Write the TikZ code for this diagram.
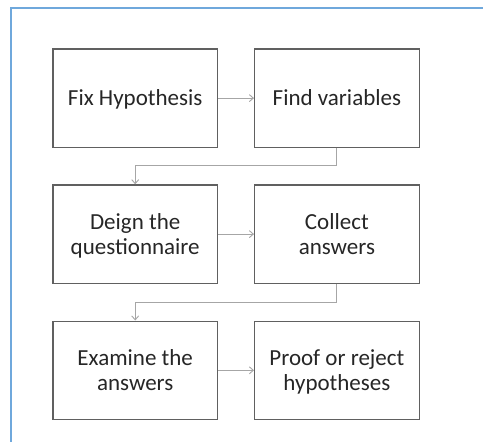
\documentclass[tikz,border=0pt]{standalone}
\usepackage{fontspec}
\setmainfont{Carlito}
\usetikzlibrary{arrows.meta}
\definecolor{framec}{HTML}{6FA8DC}
\definecolor{boxc}{HTML}{606060}
\definecolor{arrc}{HTML}{A6A6A6}
\definecolor{txtc}{HTML}{262626}
\newcommand{\mystrut}{\rule[-5pt]{0pt}{25pt}}
\begin{document}
\begin{tikzpicture}[x=1pt,y=-1pt,
  stepbox/.style={draw=boxc,line width=1.3pt,minimum width=164.5pt,minimum height=98.3pt,
    inner sep=0pt,align=center,text=txtc,font=\fontsize{23}{25}\selectfont,anchor=north west},
  conn/.style={draw=arrc,line width=1pt,-{Straight Barb[length=4pt,width=7pt,line width=0.9pt]}}]
\useasboundingbox (0,0) rectangle (483,442);
\draw[framec,line width=1.8pt] (11,442) -- (11,8) -- (483,8);
\node[stepbox] (a) at (52.3,48.3) {\mystrut Fix Hypothesis};
\node[stepbox] (b) at (254,48.3) {\mystrut Find variables};
\node[stepbox] (c) at (52.3,184.3) {\mystrut Deign the\\\mystrut questionnaire};
\node[stepbox] (d) at (254,184.3) {\mystrut Collect\\\mystrut answers};
\node[stepbox] (e) at (52.3,320.5) {\mystrut Examine the\\\mystrut answers};
\node[stepbox] (f) at (254,320.5) {\mystrut Proof or reject\\\mystrut hypotheses};
\draw[conn] (a.east) -- (b.west);
\draw[conn] (c.east) -- (d.west);
\draw[conn] (e.east) -- (f.west);
\coordinate (m1) at (0,165.7);
\coordinate (m2) at (0,302);
\draw[conn] (b.south) |- (m1 -| c.north) -- (c.north);
\draw[conn] (d.south) |- (m2 -| e.north) -- (e.north);
\end{tikzpicture}
\end{document}
